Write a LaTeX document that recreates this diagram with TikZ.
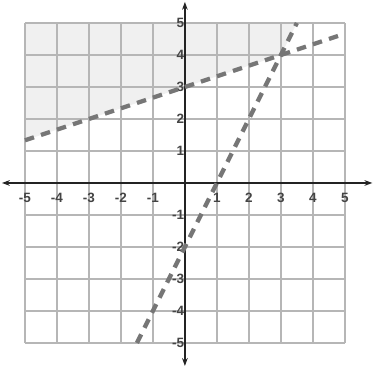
\documentclass[tikz,border=0pt]{standalone}
\usepackage{fontspec}
\setmainfont{Liberation Sans}
\usepackage{tikz}
\usetikzlibrary{arrows.meta}
\definecolor{plotgrid}{RGB}{182,182,182}
\definecolor{plotshade}{RGB}{240,240,240}
\definecolor{plotdash}{RGB}{118,118,118}
\definecolor{plotaxis}{RGB}{35,35,35}

\begin{document}
\begin{tikzpicture}[
  gridline/.style={draw=plotgrid, line width=2.2pt},
  axisline/.style={draw=plotaxis, line width=2.4pt, {Stealth[length=7pt,width=5pt]}-{Stealth[length=7pt,width=5pt]}},
  boundary/.style={draw=plotdash, line width=3.8pt, dash pattern=on 8.5pt off 6.5pt},
  tick/.style={font=\large\bfseries, text=plotaxis!85, inner sep=1pt}
]
\useasboundingbox (-5.78,-5.84) rectangle (5.88,5.72);

% Shaded region
\fill[plotshade] (-5,5) -- (-5,4/3) -- (3,4) -- (3.5,5) -- cycle;

% Grid
\foreach \k in {-5,...,5} {
  \draw[gridline] (\k,-5) -- (\k,5);
  \draw[gridline] (-5,\k) -- (5,\k);
}

% Axes
\coordinate (xleft) at (-5.72,0);
\coordinate (xright) at (5.86,0);
\coordinate (ybottom) at (0,-5.72);
\coordinate (ytop) at (0,5.66);
\draw[axisline] (xleft) -- (xright);
\draw[axisline] (ybottom) -- (ytop);

% Tick labels
\foreach \k in {-5,...,-1,1,2,3,4,5} {
  \node[tick] (xtick\k) at (\k,-0.47) {\k};
  \node[tick, anchor=east] (ytick\k) at (0.02,\k) {\k};
}

% Boundary lines
\draw[boundary] (-5,4/3) -- (5,14/3);
\draw[boundary] (-1.5,-5) -- (3.5,5);

\end{tikzpicture}
\end{document}
